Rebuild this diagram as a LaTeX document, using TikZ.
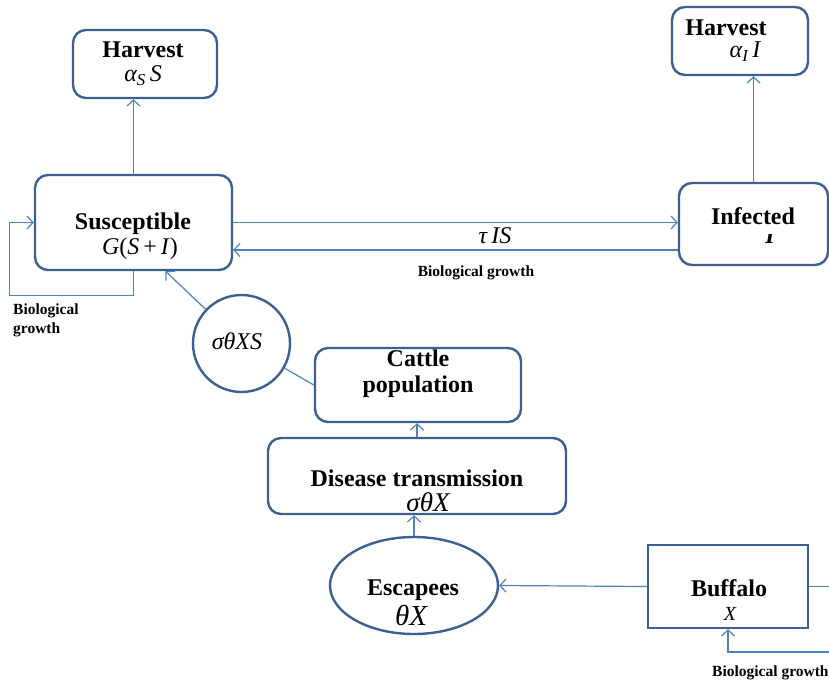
\documentclass[tikz,border=0pt]{standalone}
\usepackage{fontspec}
\setmainfont{Liberation Serif}
\usetikzlibrary{shapes.geometric, arrows.meta, positioning}
\definecolor{boxblue}{RGB}{60,96,146}
\definecolor{lineblue}{RGB}{79,129,189}
\tikzset{
  box/.style = {rectangle, rounded corners=13pt, draw=boxblue, line width=2.4pt},
  sqbox/.style = {rectangle, draw=boxblue, line width=2.4pt},
  ovalbox/.style = {ellipse, draw=boxblue, line width=2.4pt, inner sep=0pt},
  ratebox/.style = {circle, draw=boxblue, line width=2.4pt, inner sep=0pt},
  title/.style = {font=\fontsize{24}{26}\selectfont\bfseries, inner sep=0pt},
  formula/.style = {font=\fontsize{24}{26}\selectfont\itshape, inner sep=0pt},
  note/.style = {font=\fontsize{15.5}{19}\selectfont\bfseries, inner sep=0pt, align=left},
  arrow/.style = {draw=lineblue, line width=1.2pt, -{Straight Barb[length=6pt,width=13pt,line width=1.2pt]}},
  link/.style = {draw=lineblue, line width=1.2pt}
}

\begin{document}
\begin{tikzpicture}[x=1pt, y=-1pt]
\useasboundingbox (0,0) rectangle (829,682);
\clip (0,0) rectangle (829,682);

% Compartments
\node (harvS) [box, minimum width=144pt, minimum height=68pt] at (145,64) {};
\node (harvI) [box, minimum width=136pt, minimum height=68pt] at (740,41) {};
\node (sus) [box, minimum width=197pt, minimum height=95pt] at (133.5,222.5) {};
\node (inf) [box, minimum width=149pt, minimum height=82pt] at (753.5,224) {};
\node (rate) [ratebox, minimum size=97pt] at (241.5,343.5) {};
\node (cattle) [box, minimum width=206pt, minimum height=74pt] at (418,385) {};
\node (dis) [box, minimum width=298pt, minimum height=76pt] at (417,476) {};
\node (esc) [ovalbox, minimum width=168pt, minimum height=97pt] at (414,585.5) {};
\node (buf) [sqbox, minimum width=160pt, minimum height=83pt] at (728,586.5) {};

% Texts
\node (harvS-t) [title] at (143,50) {Harvest};
\node (harvS-f) [formula] at (143,76) {α\textsubscript{S}\,S};
\node (harvI-t) [title] at (726,28) {Harvest};
\node (harvI-f) [formula] at (745,52) {α\textsubscript{I}\,I};
\node (sus-t) [title] at (133,224) {Susceptible};
\node (sus-f) [formula] at (140,249) {G\/{\upshape(}S\,{\upshape+}\,I\/{\upshape)}};
\node (inf-t) [title] at (753,216) {Infected};
\begin{scope}
  \clip (755,234) rectangle (785,246);
  \node (inf-f) [formula, font=\fontsize{24}{26}\selectfont\bfseries\itshape] at (770,236) {I};
\end{scope}
\node (rate-f) [formula] at (237,341) {σθXS};
\node (cattle-t) [title] at (418,358) {Cattle};
\node (cattle-b) [title] at (418,387) {population};
\node (dis-t) [title] at (417,478) {Disease transmission};
\node (dis-f) [formula, font=\fontsize{27}{29}\selectfont\itshape] at (428,502) {σθX};
\node (esc-t) [title] at (413,590) {Escapees};
\node (esc-f) [formula, font=\fontsize{29}{31}\selectfont\itshape] at (411,615) {θX};
\node (buf-t) [title] at (729,588) {Buffalo};
\node (buf-f) [formula, font=\fontsize{20}{22}\selectfont\itshape] at (730,614) {X};
\node (tau) [formula] at (495,236) {τ\,IS};
\node (growthM) [note] at (476,273) {Biological growth};
\node (growthL) [note, anchor=west] at (13,320) {Biological\\growth};
\node (growthB) [note, anchor=west] at (712,673) {Biological growth};

% Connections
\coordinate (edgeR) at (840,586.5);
\coordinate (loopB) at (840,652);
\draw [arrow] (sus.north) -- (sus.north |- harvS.south);
\draw [arrow] (inf.north) -- (inf.north |- harvI.south);
\draw [arrow] (sus.east) -- (sus.east -| inf.west);
\draw [arrow] ([yshift=-26pt]inf.west) -- ([yshift=-26pt]inf.west -| sus.east);
\draw [arrow] (sus.south) -- ++(0,24) -| ([xshift=-24pt]sus.west) -- (sus.west);
\draw [arrow] (rate) -- ([xshift=32pt]sus.south);
\draw [link] (rate) -- (cattle.west);
\draw [arrow] (dis.north) -- (dis.north |- cattle.south);
\draw [arrow] (esc.north) -- (esc.north |- dis.south);
\draw [arrow] (buf.west) -- (esc.east);
\draw [link] (buf.east) -- (edgeR);
\draw [arrow] (loopB) -| (buf.south);

\end{tikzpicture}
\end{document}
